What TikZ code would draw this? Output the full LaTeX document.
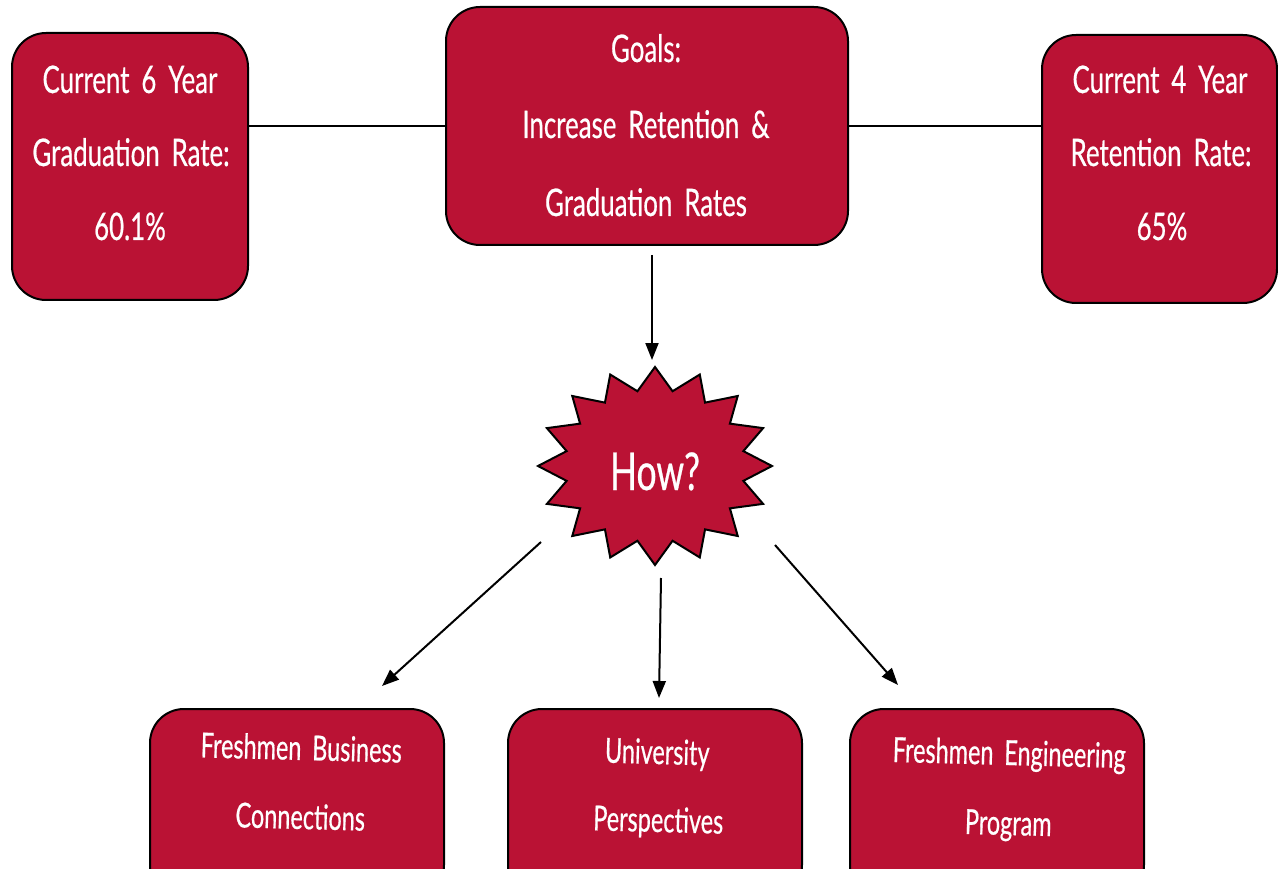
\documentclass[tikz,border=0pt]{standalone}
\usepackage{fontspec}
\setmainfont{Lato}[FakeStretch=0.68,WordSpace=1.8,FakeBold=0.5]
\usetikzlibrary{arrows.meta}
\definecolor{crim}{RGB}{186,18,52}
\tikzset{
  box/.style={draw=black,line width=2pt,fill=crim,rounded corners=34pt,inner sep=0pt},
  txt/.style={text=white,anchor=base,inner sep=0pt,font=\fontsize{38}{38}\selectfont},
  btxt/.style={text=white,anchor=base,inner sep=0pt,rotate=-1.5,font=\fontsize{34.5}{34.5}\selectfont},
  conn/.style={draw=black,line width=2pt},
  arr/.style={draw=black,line width=2pt,-{Triangle[length=17pt,width=13pt]}},
  starstyle/.style={draw=black,line width=2pt,fill=crim,line join=miter}
}
\begin{document}
\begin{tikzpicture}[x=1pt,y=-1pt]
\useasboundingbox (0,0) rectangle (1278,869);
\clip (0,0) rectangle (1278,869);
% top boxes
\node[box,minimum width=236pt,minimum height=267pt] (L) at (130,166.5) {};
\node[box,minimum width=402pt,minimum height=238pt] (C) at (647,126) {};
\node[box,minimum width=235pt,minimum height=268pt] (R) at (1159.5,169) {};
% bottom boxes
\node[box,minimum width=294pt,minimum height=190pt] (B1) at (297,804) {};
\node[box,minimum width=294pt,minimum height=190pt] (B2) at (655,804) {};
\node[box,minimum width=294pt,minimum height=190pt] (B3) at (997,804) {};
% texts
\node[txt] (l1) at (130,93) {Current 6 Year};
\node[txt] (l2) at (131,166) {Graduation Rate:};
\node[txt] (l3) at (130,240) {60.1\%};
\node[txt] (c1) at (646,62) {Goals:};
\node[txt] (c2) at (646,138) {Increase Retention \&};
\node[txt] (c3) at (646,216) {Graduation Rates};
\node[txt] (r1) at (1160,93) {Current 4 Year};
\node[txt] (r2) at (1161,166) {Retention Rate:};
\node[txt] (r3) at (1162,240) {65\%};
\node[btxt] (b11) at (301,760) {Freshmen Business};
\node[btxt] (b12) at (300,829) {Connections};
\node[btxt] (b21) at (657,764) {University};
\node[btxt] (b22) at (658,832) {Perspectives};
\node[btxt] (b31) at (1009,765) {Freshmen Engineering};
\node[btxt] (b32) at (1008,835) {Program};
% star
\path[starstyle] (655,367)
  \foreach \k [evaluate=\k as \r using {ifthenelse(mod(\k,2)==0,1,0.77)}] in {1,...,31}
  { -- ({655+\r*117*cos(90+\k*11.25)},{466-\r*99*sin(90+\k*11.25)}) } -- cycle;
\node[text=white,anchor=base,inner sep=0pt,font=\fontsize{52}{52}\selectfont] (how) at (655,490) {How?};
% connectors
\draw[conn] (L.east |- C.west) -- (C.west);
\draw[conn] (C.east) -- (R.west |- C.east);
\coordinate (a0s) at (652,255);
\coordinate (a0e) at (652,360);
\draw[arr] (a0s) -- (a0e);
\coordinate (a1s) at (541,542);
\coordinate (a1e) at (382,686);
\coordinate (a2s) at (661,578);
\coordinate (a2e) at (659,698);
\coordinate (a3s) at (775,545);
\coordinate (a3e) at (898,685);
\draw[arr] (a1s) -- (a1e);
\draw[arr] (a2s) -- (a2e);
\draw[arr] (a3s) -- (a3e);
\end{tikzpicture}
\end{document}
